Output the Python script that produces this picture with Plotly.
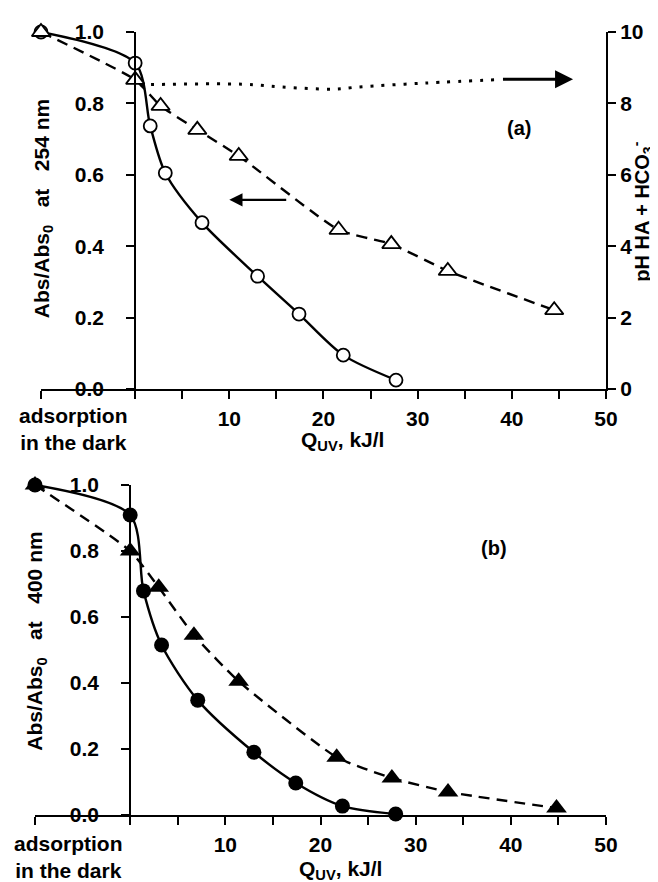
import plotly.graph_objects as go

# ---------------- data ----------------
# x = -10 stands for "adsorption in the dark"
# Panel (a): absorbance at 254 nm
a_circ_x = [-10, 0, 1.6, 3.2, 7.1, 13.0, 17.4, 22.1, 27.7]
a_circ_y = [1.0, 0.913, 0.737, 0.605, 0.466, 0.316, 0.21, 0.095, 0.025]
a_tri_x = [-10, 0, 2.7, 6.6, 11.0, 21.6, 27.2, 33.2, 44.5]
a_tri_y = [1.0, 0.866, 0.793, 0.726, 0.653, 0.446, 0.406, 0.331, 0.221]
ph_x = [0.5, 11.3, 15.5, 21.2, 23.7, 30.8, 38.9]
ph_y = [8.52, 8.54, 8.46, 8.40, 8.46, 8.57, 8.67]

# Panel (b): absorbance at 400 nm
b_circ_x = [-10, 0, 1.4, 3.3, 7.1, 13.0, 17.4, 22.3, 27.9]
b_circ_y = [1.0, 0.909, 0.679, 0.515, 0.348, 0.19, 0.097, 0.027, 0.003]
b_tri_x = [-10, 0, 3.0, 6.7, 11.4, 21.7, 27.5, 33.4, 44.8]
b_tri_y = [1.0, 0.8, 0.69, 0.545, 0.405, 0.175, 0.112, 0.07, 0.021]

x_tickvals = [-10, 0, 5, 10, 15, 20, 25, 30, 35, 40, 45, 50]
x_ticktext = ["", "", "", "10", "", "20", "", "30", "", "40", "", "50"]
y_tickvals = [0, 0.2, 0.4, 0.6, 0.8, 1.0]
y_ticktext = ["0.0", "0.2", "0.4", "0.6", "0.8", "1.0"]
ph_tickvals = [0, 2, 4, 6, 8, 10]

FONT = "Liberation Sans, Arial, sans-serif"
fnt = dict(family=FONT, size=21, color="black", weight="bold")
fnt_t = dict(family=FONT, size=21, color="black", weight="bold")
fnt_r = dict(family=FONT, size=20, color="black", weight="bold")
NB = "\u00a0\u00a0\u00a0"

fig = go.Figure()

# panel (a)
fig.add_trace(go.Scatter(x=a_circ_x, y=a_circ_y, mode="lines+markers", xaxis="x", yaxis="y",
                         line=dict(color="black", width=2.4, shape="spline", smoothing=0.8),
                         marker=dict(symbol="circle", size=13, color="white",
                                     line=dict(color="black", width=1.8)),
                         cliponaxis=False, showlegend=False))
fig.add_trace(go.Scatter(x=a_tri_x, y=a_tri_y, mode="lines+markers", xaxis="x", yaxis="y",
                         line=dict(color="black", width=2.4, dash="11px,7px", shape="spline", smoothing=0.5),
                         marker=dict(symbol="triangle-up", size=16, color="white",
                                     line=dict(color="black", width=1.8)),
                         cliponaxis=False, showlegend=False))
fig.add_trace(go.Scatter(x=ph_x, y=ph_y, mode="lines", xaxis="x", yaxis="y2",
                         line=dict(color="black", width=3, dash="3px,8px", shape="spline"),
                         cliponaxis=False, showlegend=False))

# panel (b)
fig.add_trace(go.Scatter(x=b_circ_x, y=b_circ_y, mode="lines+markers", xaxis="x2", yaxis="y3",
                         line=dict(color="black", width=2.4, shape="spline", smoothing=0.8),
                         marker=dict(symbol="circle", size=15, color="black"),
                         cliponaxis=False, showlegend=False))
fig.add_trace(go.Scatter(x=b_tri_x, y=b_tri_y, mode="lines+markers", xaxis="x2", yaxis="y3",
                         line=dict(color="black", width=2.4, dash="11px,7px", shape="spline", smoothing=0.5),
                         marker=dict(symbol="triangle-up", size=18, color="black"),
                         cliponaxis=False, showlegend=False))

axis_common = dict(showline=True, linecolor="black", linewidth=2, ticks="outside",
                   ticklen=8, tickwidth=2, tickcolor="black", showgrid=False,
                   zeroline=False, tickfont=fnt)

fig.update_layout(
    width=658, height=882,
    margin=dict(l=27, r=60, t=24, b=75),
    paper_bgcolor="white", plot_bgcolor="white",
    xaxis=dict(domain=[0.0105, 1], range=[-10, 50], anchor="y",
               tickvals=x_tickvals, ticktext=x_ticktext, ticklabelstandoff=2, **axis_common),
    yaxis=dict(domain=[0.544, 1], range=[0, 1], anchor="free", position=0.1754,
               tickvals=y_tickvals, ticktext=y_ticktext, ticklabelstandoff=18, **axis_common),
    yaxis2=dict(overlaying="y", side="right", anchor="x", range=[0, 10],
                tickvals=ph_tickvals, **axis_common),
    xaxis2=dict(domain=[0, 1], range=[-10, 50], anchor="y3",
                tickvals=x_tickvals, ticktext=x_ticktext, ticklabelstandoff=2, **axis_common),
    yaxis3=dict(domain=[0, 0.4215], range=[0, 1], anchor="free", position=0.1667,
                tickvals=y_tickvals, ticktext=y_ticktext, ticklabelstandoff=18, **axis_common),
)

ann = []
# x-axis category label and titles
ann.append(dict(x=-6.6, y=0.493, xref="x", yref="paper", text="adsorption<br>in the dark",
                showarrow=False, font=fnt, xanchor="center", yanchor="middle"))
ann.append(dict(x=-6.45, y=-0.0535, xref="x2", yref="paper", text="adsorption<br>in the dark",
                showarrow=False, font=fnt, xanchor="center", yanchor="middle"))
ann.append(dict(x=22, y=0.4777, xref="x", yref="paper", text="Q<sub>UV</sub>, kJ/l",
                showarrow=False, font=fnt, xanchor="center", yanchor="middle"))
ann.append(dict(x=22.1, y=-0.0702, xref="x2", yref="paper", text="Q<sub>UV</sub>, kJ/l",
                showarrow=False, font=fnt, xanchor="center", yanchor="middle"))
# y titles
ann.append(dict(x=0.014, y=0.775, xref="paper", yref="paper",
                text="Abs/Abs<sub>0</sub>" + NB + "at" + NB + "254 nm", textangle=-90,
                showarrow=False, font=fnt_t, xanchor="center", yanchor="middle"))
ann.append(dict(x=0.00175, y=0.2225, xref="paper", yref="paper",
                text="Abs/Abs<sub>0</sub>" + NB + "at" + NB + "400 nm", textangle=-90,
                showarrow=False, font=fnt_t, xanchor="center", yanchor="middle"))
ann.append(dict(x=1.0625, y=0.77, xref="paper", yref="paper",
                text="pH HA + HCO<sub>3</sub><sup>-</sup>", textangle=-90,
                showarrow=False, font=fnt_r, xanchor="center", yanchor="middle"))
# panel labels
ann.append(dict(x=40.8, y=0.73, xref="x", yref="y", text="(a)", showarrow=False,
                font=dict(family=FONT, size=20, color="black", weight="bold")))
ann.append(dict(x=38.2, y=0.81, xref="x2", yref="y3", text="(b)", showarrow=False,
                font=dict(family=FONT, size=20, color="black", weight="bold")))
# arrows
ann.append(dict(x=10, y=0.53, ax=16.2, ay=0.53, xref="x", yref="y", axref="x", ayref="y",
                text="", showarrow=True, arrowhead=2, arrowsize=1.2, arrowwidth=2.2, arrowcolor="black"))
ann.append(dict(x=46.5, y=8.68, ax=38.9, ay=8.68, xref="x", yref="y2", axref="x", ayref="y2",
                text="", showarrow=True, arrowhead=2, arrowsize=1.2, arrowwidth=3, arrowcolor="black"))
fig.update_layout(annotations=ann)

fig.write_html("out.html")
